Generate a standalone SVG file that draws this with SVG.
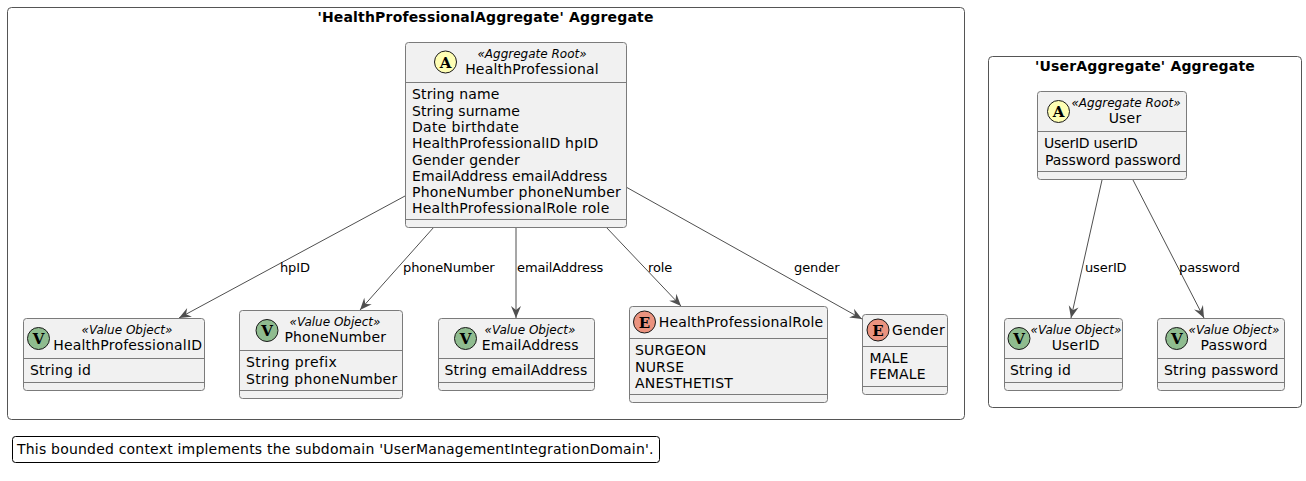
<svg xmlns="http://www.w3.org/2000/svg" width="1306" height="481" viewBox="0 0 1306 481">
<style>
text{font-family:"DejaVu Sans",sans-serif;fill:#000}
.pkg{fill:none;stroke:#555;stroke-width:1}
.box{fill:#F1F1F1;stroke:#7b7b7b;stroke-width:1}
.sep{stroke:#7b7b7b;stroke-width:1;fill:none}
.title{font-size:14px;font-weight:bold;text-anchor:middle;letter-spacing:.18px}
.st{font-size:12px;font-style:italic;text-anchor:middle}
.nm{font-size:14px;text-anchor:middle;letter-spacing:.2px}
.m{font-size:14px;letter-spacing:.2px}
.lb{font-size:13px;letter-spacing:-.12px}
.ic{stroke:#181818;stroke-width:1}
.a{fill:#FEFEB4}.v{fill:#8FBC8F}.e{fill:#EB937F}
.g{font-family:"DejaVu Serif",serif;font-size:15px;font-weight:bold;text-anchor:middle}
.c{stroke:#4f4f4f;stroke-width:1;fill:none;marker-end:url(#arr)}
</style>
<defs>
<marker id="arr" markerUnits="userSpaceOnUse" viewBox="0 0 14 12" refX="13" refY="6" markerWidth="14" markerHeight="12" orient="auto"><path d="M1,1 L13,6 L1,11 L5,6 Z" fill="#4f4f4f"/></marker>
</defs>
<g id="pkg-health">
<rect class="pkg" x="7.5" y="7.5" width="957" height="412" rx="4"/>
<text class="title" x="485.5" y="22">'HealthProfessionalAggregate' Aggregate</text>
</g>
<g id="pkg-user">
<rect class="pkg" x="988.5" y="56.5" width="313" height="351" rx="4"/>
<text class="title" x="1145" y="71">'UserAggregate' Aggregate</text>
</g>
<g id="connectors">
<path class="c" d="M405,196 L179,318"/>
<path class="c" d="M434,227 L360,310"/>
<path class="c" d="M516,227 L516,318"/>
<path class="c" d="M606,227 L681,306"/>
<path class="c" d="M626,187 L862,319"/>
<path class="c" d="M1102,180 L1071,318"/>
<path class="c" d="M1133,180 L1204,318"/>
<text class="lb" x="280" y="272">hpID</text>
<text class="lb" x="403" y="272">phoneNumber</text>
<text class="lb" x="517" y="272">emailAddress</text>
<text class="lb" x="648" y="272">role</text>
<text class="lb" x="794" y="272">gender</text>
<text class="lb" x="1085" y="272">userID</text>
<text class="lb" x="1179" y="272">password</text>
</g>
<g id="HealthProfessional">
<rect class="box" x="405.5" y="42.5" width="221" height="185" rx="3"/>
<path class="sep" d="M405.5,82.5H626.5M405.5,219.5H626.5"/>
<circle class="ic a" cx="445.5" cy="62" r="11"/>
<text class="g" x="445.5" y="67.5">A</text>
<text class="st" x="532" y="58">«Aggregate Root»</text>
<text class="nm" x="532" y="74">HealthProfessional</text>
<text class="m" x="412" y="99" textLength="87.5">String name</text>
<text class="m" x="412" y="116" textLength="108">String surname</text>
<text class="m" x="412" y="132" textLength="107">Date birthdate</text>
<text class="m" x="412" y="148" textLength="186.5">HealthProfessionalID hpID</text>
<text class="m" x="412" y="165" textLength="108">Gender gender</text>
<text class="m" x="412" y="181" textLength="195.5">EmailAddress emailAddress</text>
<text class="m" x="412" y="197" textLength="209">PhoneNumber phoneNumber</text>
<text class="m" x="412" y="213" textLength="197.5">HealthProfessionalRole role</text>
</g>
<g id="HealthProfessionalID">
<rect class="box" x="23.5" y="318.5" width="181" height="72" rx="3"/>
<path class="sep" d="M23.5,358.5H204.5M23.5,382.5H204.5"/>
<circle class="ic v" cx="38.5" cy="338.5" r="11"/>
<text class="g" x="38.5" y="344">V</text>
<text class="st" x="127" y="334">«Value Object»</text>
<text class="nm" x="127.7" y="350">HealthProfessionalID</text>
<text class="m" x="30" y="375" textLength="61">String id</text>
</g>
<g id="PhoneNumber">
<rect class="box" x="239.5" y="310.5" width="163" height="88" rx="3"/>
<path class="sep" d="M239.5,350.5H402.5M239.5,390.5H402.5"/>
<circle class="ic v" cx="267" cy="330.5" r="11"/>
<text class="g" x="267" y="336">V</text>
<text class="st" x="335" y="326">«Value Object»</text>
<text class="nm" x="335.3" y="342">PhoneNumber</text>
<text class="m" x="246" y="367" textLength="91">String prefix</text>
<text class="m" x="246" y="384" textLength="151.5">String phoneNumber</text>
</g>
<g id="EmailAddress">
<rect class="box" x="438.5" y="318.5" width="156" height="72" rx="3"/>
<path class="sep" d="M438.5,358.5H594.5M438.5,382.5H594.5"/>
<circle class="ic v" cx="465.5" cy="338.5" r="11"/>
<text class="g" x="465.5" y="344">V</text>
<text class="st" x="530" y="334">«Value Object»</text>
<text class="nm" x="530.3" y="350">EmailAddress</text>
<text class="m" x="444.5" y="375" textLength="143">String emailAddress</text>
</g>
<g id="HealthProfessionalRole">
<rect class="box" x="629.5" y="306.5" width="198" height="96" rx="3"/>
<path class="sep" d="M629.5,338.5H827.5M629.5,394.5H827.5"/>
<circle class="ic e" cx="644.5" cy="322" r="11"/>
<text class="g" x="644.5" y="327.5">E</text>
<text class="nm" x="741" y="327">HealthProfessionalRole</text>
<text class="m" x="635" y="355">SURGEON</text>
<text class="m" x="635" y="372">NURSE</text>
<text class="m" x="635" y="388">ANESTHETIST</text>
</g>
<g id="Gender">
<rect class="box" x="862.5" y="314.5" width="85" height="80" rx="3"/>
<path class="sep" d="M862.5,346.5H947.5M862.5,386.5H947.5"/>
<circle class="ic e" cx="878" cy="330" r="11"/>
<text class="g" x="878" y="335.5">E</text>
<text class="nm" x="918.5" y="335">Gender</text>
<text class="m" x="869.5" y="363">MALE</text>
<text class="m" x="869.5" y="379">FEMALE</text>
</g>
<g id="User">
<rect class="box" x="1037.5" y="91.5" width="149" height="88" rx="3"/>
<path class="sep" d="M1037.5,131.5H1186.5M1037.5,171.5H1186.5"/>
<circle class="ic a" cx="1058.5" cy="111.5" r="11"/>
<text class="g" x="1058.5" y="117">A</text>
<text class="st" x="1126" y="107">«Aggregate Root»</text>
<text class="nm" x="1125" y="123">User</text>
<text class="m" x="1044" y="148" textLength="94">UserID userID</text>
<text class="m" x="1045" y="165" textLength="136">Password password</text>
</g>
<g id="UserID">
<rect class="box" x="1004.5" y="318.5" width="118" height="72" rx="3"/>
<path class="sep" d="M1004.5,358.5H1122.5M1004.5,382.5H1122.5"/>
<circle class="ic v" cx="1019" cy="338.5" r="11"/>
<text class="g" x="1019" y="344">V</text>
<text class="st" x="1076" y="334">«Value Object»</text>
<text class="nm" x="1075.7" y="350">UserID</text>
<text class="m" x="1010" y="375" textLength="61">String id</text>
</g>
<g id="Password">
<rect class="box" x="1157.5" y="318.5" width="127" height="72" rx="3"/>
<path class="sep" d="M1157.5,358.5H1284.5M1157.5,382.5H1284.5"/>
<circle class="ic v" cx="1176.7" cy="338.5" r="11"/>
<text class="g" x="1176.7" y="344">V</text>
<text class="st" x="1234" y="334">«Value Object»</text>
<text class="nm" x="1234" y="350">Password</text>
<text class="m" x="1164" y="375" textLength="114.7">String password</text>
</g>
<g id="note">
<rect x="12.5" y="436.5" width="647" height="26" rx="3" fill="#fff" stroke="#000"/>
<text class="m" x="17" y="454">This bounded context implements the subdomain 'UserManagementIntegrationDomain'.</text>
</g>
</svg>
